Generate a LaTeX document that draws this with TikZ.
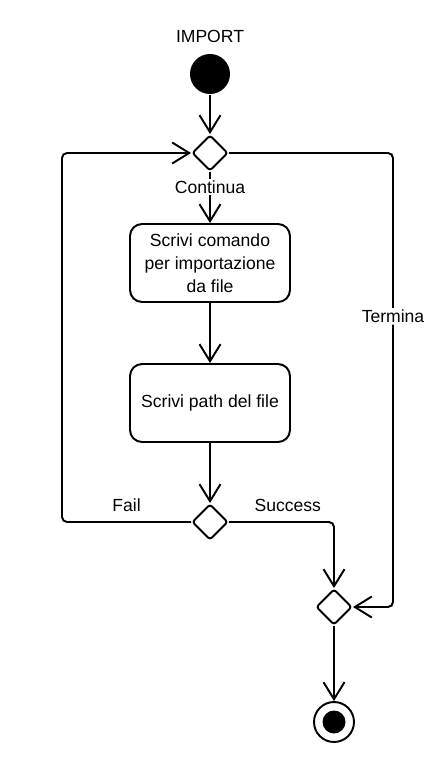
\documentclass[tikz,border=0pt]{standalone}
\usepackage{fontspec}
\setmainfont{Liberation Sans}
\usetikzlibrary{arrows.meta,shapes.geometric}

\begin{document}
\begin{tikzpicture}[
  x=0.02cm, y=-0.02cm,
  line width=1.1pt,
  every node/.style={font=\fontsize{10}{13}\selectfont},
  box/.style={draw, rounded corners=2.4mm, align=center, minimum width=3.2cm, minimum height=1.56cm, inner sep=2pt},
  decision/.style={draw, diamond, rounded corners=0.6mm, minimum size=0.72cm, inner sep=0pt},
  initial/.style={circle, fill=black, minimum size=0.8cm, inner sep=0pt},
  final/.style={circle, draw, minimum size=0.8cm, inner sep=0pt, path picture={\fill (path picture bounding box.center) circle (0.23cm);}},
  arrow/.style={-{Straight Barb[length=3.4mm, width=4.2mm]}},
  flow/.style={rounded corners=1mm}
]
\useasboundingbox (0,0) rectangle (446,760);
\node[initial, label={[label distance=2pt]above:IMPORT}] (start) at (210,74) {};
\node[decision] (merge) at (210,153) {};
\node[box] (command) at (210,263) {Scrivi comando\\per importazione\\da file};
\node[box] (path) at (210,403) {Scrivi path del file};
\node[decision] (check) at (210,522) {};
\node[decision] (join) at (334,607) {};
\node[final] (end) at (334,722) {};
\coordinate (failcorner) at (62,522);
\coordinate (exitcorner) at (393,153);
\draw[arrow] (start) -- (merge);
\draw[arrow] (merge) -- node[fill=white, pos=0.3, inner sep=1pt] {Continua} (command);
\draw[arrow] (command) -- (path);
\draw[arrow] (path) -- (check);
\draw[arrow, flow] (check.west) -- node[above, yshift=2pt] {Fail} (failcorner) |- (merge.west);
\draw[arrow, flow] (merge.east) -- (exitcorner) |- node[fill=white, pos=0.18, inner sep=1pt] {Termina} (join.east);
\draw[arrow, flow] (check.east) -| node[above, pos=0.28, yshift=2pt] {Success} (join.north);
\draw[arrow] (join) -- (end);
\end{tikzpicture}
\end{document}
